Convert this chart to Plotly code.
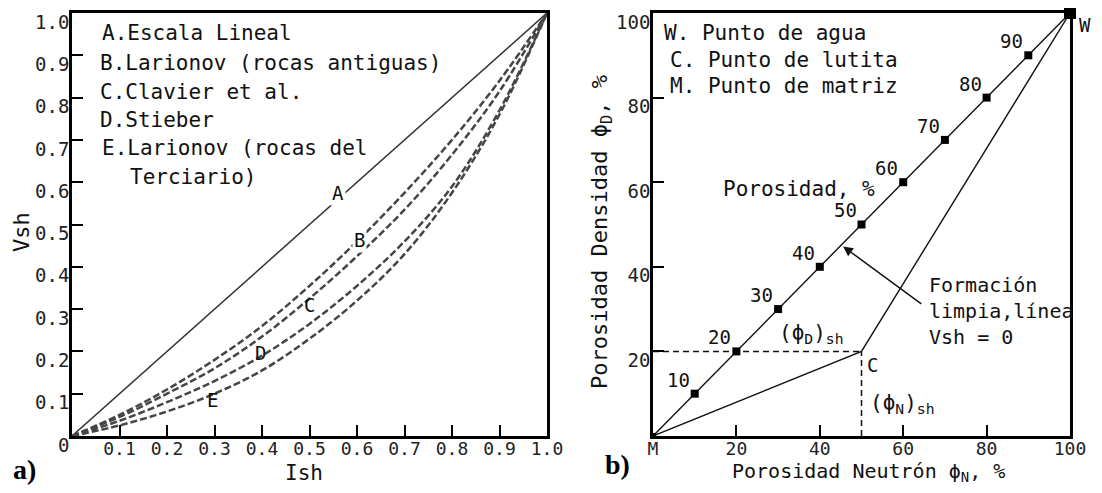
import plotly.graph_objects as go

# page is 1102x493; the html body adds an 8px margin, so the figure itself is smaller
OFF = 8
FW, FH = 1086, 477

# ---------------- data: panel a ----------------
ish = [0.0, 0.1, 0.2, 0.3, 0.4, 0.5, 0.6, 0.7, 0.8, 0.9, 1.0]
vsh_A = [0.0, 0.1, 0.2, 0.3, 0.4, 0.5, 0.6, 0.7, 0.8, 0.9, 1.0]
vsh_B = [0.0, 0.05, 0.11, 0.18, 0.26, 0.355, 0.46, 0.575, 0.70, 0.84, 1.0]
vsh_C = [0.0, 0.045, 0.10, 0.16, 0.235, 0.325, 0.425, 0.535, 0.665, 0.815, 1.0]
vsh_D = [0.0, 0.036, 0.08, 0.13, 0.19, 0.265, 0.355, 0.46, 0.59, 0.77, 1.0]
vsh_E = [0.0, 0.025, 0.058, 0.10, 0.155, 0.23, 0.32, 0.43, 0.575, 0.76, 1.0]

a_xticks = [0.1, 0.2, 0.3, 0.4, 0.5, 0.6, 0.7, 0.8, 0.9, 1.0]
a_xlabels = ["0.1", "0.2", "0.3", "0.4", "0.5", "0.6", "0.7", "0.8", "0.9", "1.0"]
a_yticks = [0, 0.1, 0.2, 0.3, 0.4, 0.5, 0.6, 0.7, 0.8, 0.9, 1.0]
a_ylabels = ["0", "0.1", "0.2", "0.3", "0.4", "0.5", "0.6", "0.7", "0.8", "0.9", "1.0"]

a_legend = ["A.Escala Lineal", "B.Larionov (rocas antiguas)", "C.Clavier et al.",
            "D.Stieber", "E.Larionov (rocas del", "Terciario)"]
curve_letters = ["A", "B", "C", "D", "E"]
curve_label_x = [0.56, 0.606, 0.501, 0.396, 0.295]
curve_label_y = [0.574, 0.463, 0.31, 0.196, 0.085]

# ---------------- data: panel b ----------------
clean_phiN = [0, 10, 20, 30, 40, 50, 60, 70, 80, 90, 100]
clean_phiD = [0, 10, 20, 30, 40, 50, 60, 70, 80, 90, 100]
por_labels = ["10", "20", "30", "40", "50", "60", "70", "80", "90"]
shale_phiN = 50
shale_phiD = 20
water_phiN = 100
water_phiD = 100

b_xticks = [0, 20, 40, 60, 80, 100]
b_xlabels = ["M", "20", "40", "60", "80", "100"]
b_yticks = [20, 40, 60, 80, 100]
b_ylabels = ["20", "40", "60", "80", "100"]
b_legend = ["W. Punto de agua", "C. Punto de lutita", "M. Punto de matriz"]

MONO = "DejaVu Sans Mono"
INK = "#111111"


def px(x):
    return (x - OFF) / FW


def py(y):
    return 1 - (y - OFF) / FH


def note(text, x, y, size=20, xa="center", ya="middle", **kw):
    d = dict(text=text, x=px(x), y=py(y), xref="paper", yref="paper", xanchor=xa, yanchor=ya,
             showarrow=False, font=dict(family=kw.pop("family", MONO), size=size,
                                         color=kw.pop("color", INK)))
    d.update(kw)
    return d


fig = go.Figure()

# ---- panel a curves ----
fig.add_trace(go.Scatter(x=ish, y=vsh_A, mode="lines", xaxis="x", yaxis="y",
                         line=dict(color="#333333", width=1.5), showlegend=False))
for ys in [vsh_B, vsh_C, vsh_D, vsh_E]:
    fig.add_trace(go.Scatter(x=ish, y=ys, mode="lines", xaxis="x", yaxis="y",
                             line=dict(color="#454545", width=2.5, dash="7px,3px", shape="spline"),
                             showlegend=False))

# ---- panel b lines ----
fig.add_trace(go.Scatter(x=[0, shale_phiN], y=[shale_phiD, shale_phiD], mode="lines",
                         xaxis="x2", yaxis="y2", line=dict(color=INK, width=1.5, dash="6px,4px"),
                         showlegend=False))
fig.add_trace(go.Scatter(x=[shale_phiN, shale_phiN], y=[0, shale_phiD], mode="lines",
                         xaxis="x2", yaxis="y2", line=dict(color=INK, width=1.5, dash="6px,4px"),
                         showlegend=False))
fig.add_trace(go.Scatter(x=[0, shale_phiN, water_phiN], y=[0, shale_phiD, water_phiD], mode="lines",
                         xaxis="x2", yaxis="y2", line=dict(color=INK, width=1.4),
                         showlegend=False))
fig.add_trace(go.Scatter(x=clean_phiN, y=clean_phiD, mode="lines", xaxis="x2", yaxis="y2",
                         line=dict(color=INK, width=1.4), showlegend=False))
fig.add_trace(go.Scatter(x=clean_phiN[1:-1], y=clean_phiD[1:-1], mode="markers", xaxis="x2", yaxis="y2",
                         marker=dict(symbol="square", size=8, color="#000"), showlegend=False,
                         cliponaxis=False))
fig.add_trace(go.Scatter(x=[water_phiN], y=[water_phiD], mode="markers", xaxis="x2", yaxis="y2",
                         marker=dict(symbol="square", size=12, color="#000"), showlegend=False,
                         cliponaxis=False))
fig.add_trace(go.Scatter(x=[0], y=[0], mode="markers", xaxis="x2", yaxis="y2",
                         marker=dict(symbol="square", size=6, color="#000"), showlegend=False,
                         cliponaxis=False))

ann = []
# panel a legend text
a_leg_pos = [(100, 33), (98, 63), (98, 92), (98, 120), (100, 148), (128, 177)]
for t, (lx, ly) in zip(a_legend, a_leg_pos):
    ann.append(note(t, lx, ly, size=21, xa="left"))
# curve letters
for i, (t, cx, cy) in enumerate(zip(curve_letters, curve_label_x, curve_label_y)):
    d = dict(text=t, x=cx, y=cy, xref="x", yref="y", xanchor="center", yanchor="middle",
             showarrow=False, font=dict(family=MONO, size=19, color=INK))
    if i < 2:
        d["bgcolor"] = "white"
    ann.append(d)
# axis titles a
ann.append(note("Vsh", 22, 232, size=22, textangle=-90))
ann.append(note("Ish", 304, 473, size=21))
ann.append(note("<b>a)</b>", 24, 469, size=28, family="Liberation Serif", color="#000"))

# panel b legend
b_leg_pos = [(662, 33), (668, 60), (668, 86)]
for t, (lx, ly) in zip(b_legend, b_leg_pos):
    ann.append(note(t, lx, ly, size=21, xa="left"))
# porosity labels
for t, vx, vy in zip(por_labels, clean_phiN[1:-1], clean_phiD[1:-1]):
    ann.append(dict(text=t, x=vx, y=vy, xref="x2", yref="y2", xanchor="right", yanchor="bottom",
                    xshift=-3, yshift=1, showarrow=False, font=dict(family=MONO, size=19, color=INK)))
ann.append(note("W", 1077, 25, size=19, xa="left"))
ann.append(dict(text="C", x=shale_phiN, y=shale_phiD, xref="x2", yref="y2", xanchor="left",
                yanchor="top", xshift=3, yshift=-1, showarrow=False,
                font=dict(family=MONO, size=19, color=INK)))
ann.append(dict(text="Porosidad, %", x=35.0, y=58.4, xref="x2", yref="y2", xanchor="center",
                yanchor="middle", showarrow=False, font=dict(family=MONO, size=21, color=INK)))
ann.append(dict(text="(ϕ<sub>D</sub>)<sub>sh</sub>", x=37.9, y=24.2, xref="x2", yref="y2",
                xanchor="center", yanchor="middle", showarrow=False,
                font=dict(family=MONO, size=21, color=INK)))
ann.append(dict(text="(ϕ<sub>N</sub>)<sub>sh</sub>", x=59.7, y=7.6, xref="x2", yref="y2",
                xanchor="center", yanchor="middle", showarrow=False,
                font=dict(family=MONO, size=21, color=INK)))
ann.append(dict(text="Formación<br>limpia,línea<br>Vsh = 0", x=65.7, y=29.6, xref="x2", yref="y2",
                xanchor="left", yanchor="middle", align="left", showarrow=False,
                font=dict(family=MONO, size=20, color=INK)))
ann.append(dict(text="", x=45.6, y=44.8, xref="x2", yref="y2", ax=64.7, ay=31.0,
                axref="x2", ayref="y2", showarrow=True, arrowhead=2, arrowsize=1.3,
                arrowwidth=1.5, arrowcolor=INK))
ann.append(note("Porosidad Densidad ϕ<sub>D</sub>, %", 602, 232, size=22, textangle=-90))
ann.append(note("Porosidad Neutrón ϕ<sub>N</sub>, %", 868, 472, size=20))
ann.append(note("<b>b)</b>", 617, 464, size=28, family="Liberation Serif", color="#000"))

ydom = [py(436), py(13)]
axis_common = dict(showgrid=False, zeroline=False, showline=True, mirror=True, linecolor="#000",
                   linewidth=2.5, ticks="inside", ticklen=11, tickwidth=2, tickcolor="#000",
                   automargin=False, ticklabeloverflow="allow", fixedrange=True)
yfont = dict(family=MONO, size=19, color="#222")
xfont = dict(family=MONO, size=18, color="#222")

fig.update_layout(
    width=FW, height=FH, margin=dict(l=0, r=0, t=0, b=0, autoexpand=False),
    paper_bgcolor="white", plot_bgcolor="white", showlegend=False,
    xaxis=dict(domain=[px(72), px(547)], range=[0, 1], anchor="y", tickmode="array",
               tickvals=a_xticks, ticktext=a_xlabels, ticklabelstandoff=-5, tickfont=xfont,
               **axis_common),
    yaxis=dict(domain=ydom, range=[0, 1], anchor="x", tickmode="array",
               tickvals=a_yticks, ticktext=a_ylabels, ticklabelshift=9, ticklabelstandoff=-4,
               tickfont=yfont, **axis_common),
    xaxis2=dict(domain=[px(653), px(1070)], range=[0, 100], anchor="y2", tickmode="array",
                tickvals=b_xticks, ticktext=b_xlabels, ticklabelstandoff=-5, tickfont=xfont,
                **axis_common),
    yaxis2=dict(domain=ydom, range=[0, 100], anchor="x2", tickmode="array",
                tickvals=b_yticks, ticktext=b_ylabels, ticklabelshift=9, ticklabelstandoff=-4,
                tickfont=yfont, **axis_common),
    annotations=ann,
)

fig.write_html("out.html")
